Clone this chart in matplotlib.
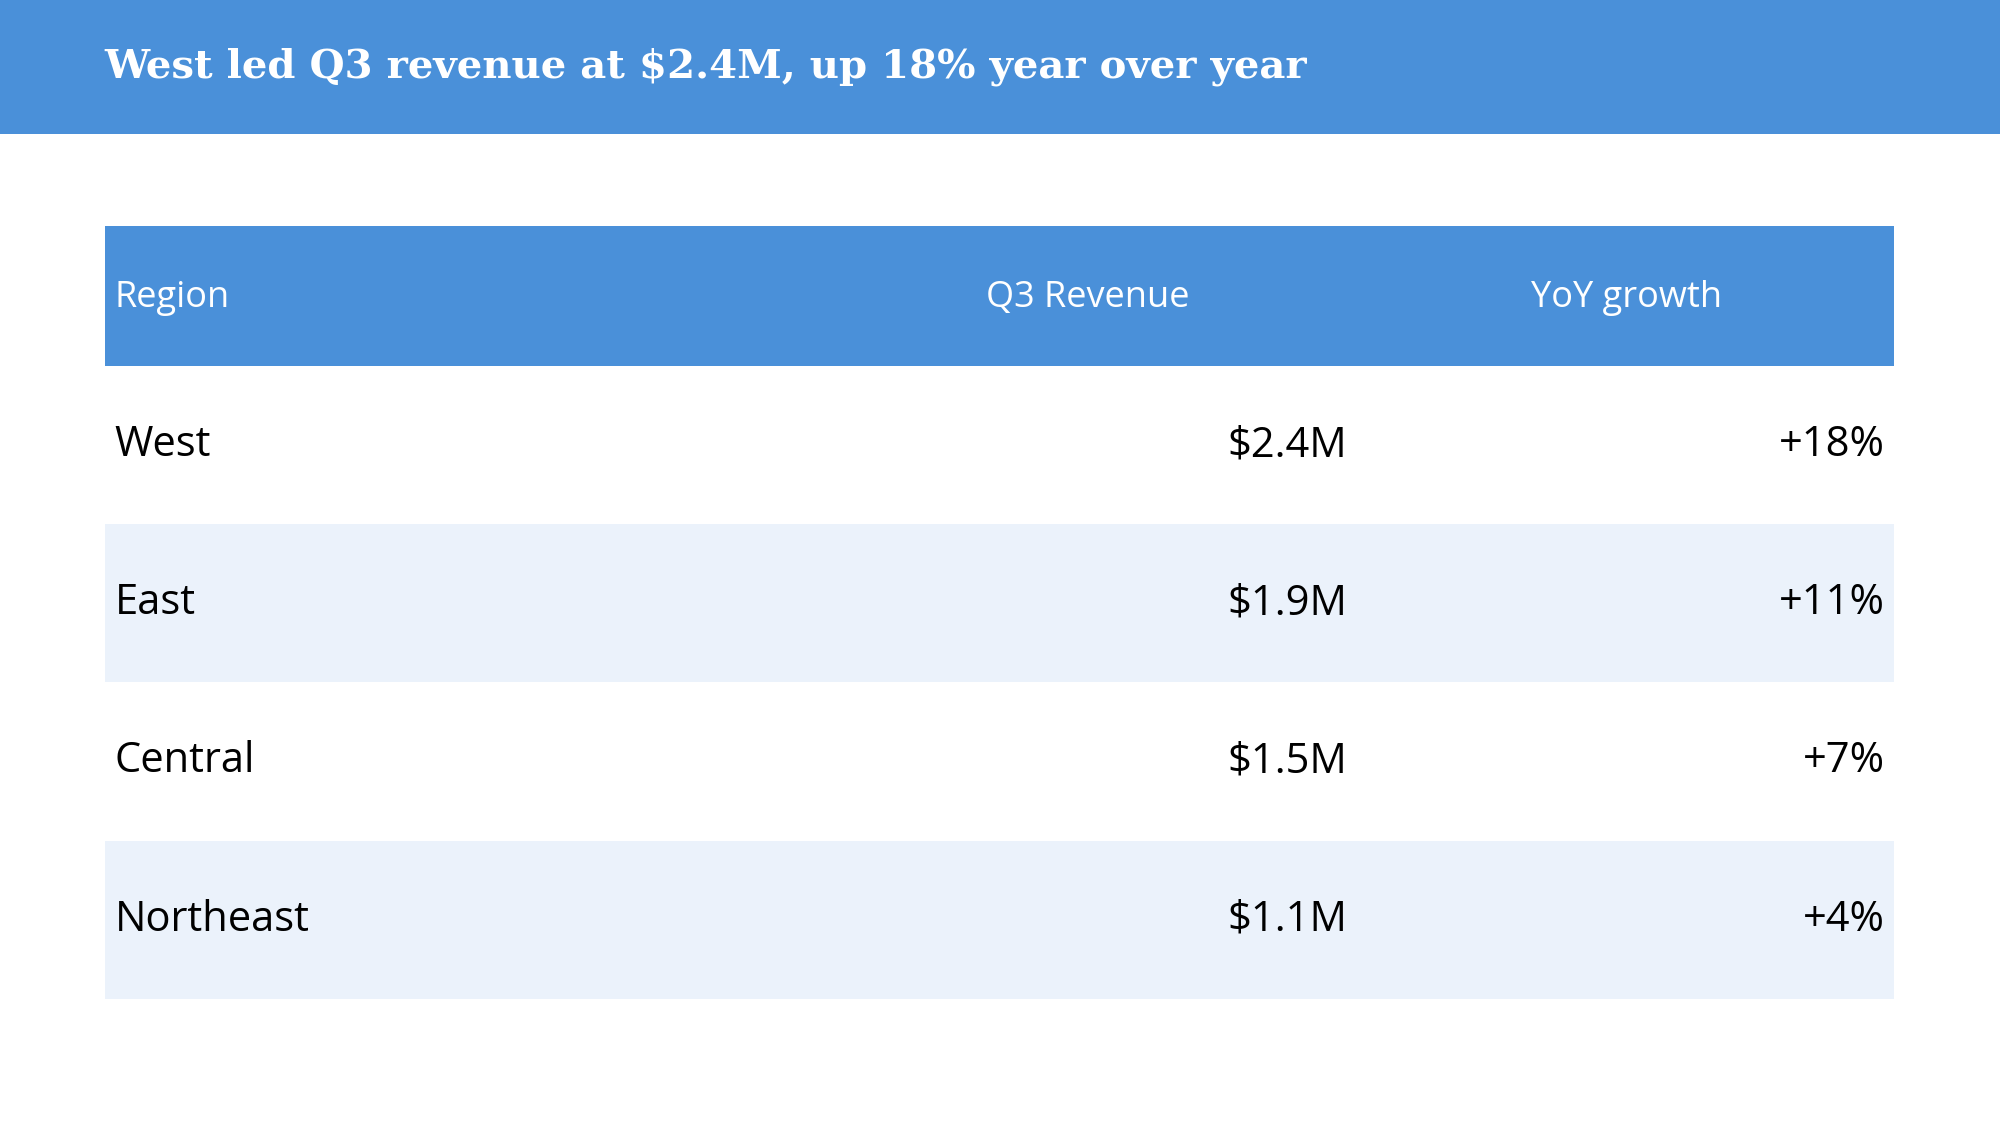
import matplotlib
matplotlib.use("Agg")
import matplotlib.pyplot as plt
from matplotlib.patches import Rectangle

title = "West led Q3 revenue at $2.4M, up 18% year over year"
headers = ["Region", "Q3 Revenue", "YoY growth"]
regions = ["West", "East", "Central", "Northeast"]
revenue = ["$2.4M", "$1.9M", "$1.5M", "$1.1M"]
growth = ["+18%", "+11%", "+7%", "+4%"]

BLUE = "#4A90D9"
STRIPE = "#EBF2FB"

fig = plt.figure(figsize=(20, 11.25), dpi=100)
ax = fig.add_axes([0, 0, 1, 1])
ax.set_xlim(0, 1568)
ax.set_ylim(882, 0)
ax.axis("off")

ax.add_patch(Rectangle((0, 0), 1568, 105, color=BLUE, lw=0))
ax.text(82, 52, title, color="white", fontsize=29, fontweight="bold",
        family="DejaVu Serif", va="center", ha="left")

ax.add_patch(Rectangle((82, 177), 1403, 110, color=BLUE, lw=0))
hf = dict(color="white", fontsize=26, family="Open Sans", va="center")
ax.text(90, 234, headers[0], ha="left", **hf)
ax.text(853, 234, headers[1], ha="center", **hf)
ax.text(1275, 234, headers[2], ha="center", **hf)

row_h = 124
for i, (r, v, g) in enumerate(zip(regions, revenue, growth)):
    y0 = 287 + i * row_h
    if i % 2 == 1:
        ax.add_patch(Rectangle((82, y0), 1403, row_h, color=STRIPE, lw=0))
    yc = y0 + row_h / 2
    tf = dict(color="black", fontsize=30, family="Open Sans", va="center")
    ax.text(90, yc, r, ha="left", **tf)
    ax.text(1056, yc, v, ha="right", **tf)
    ax.text(1478, yc, g, ha="right", **tf)

fig.savefig("out.png", dpi=100)
